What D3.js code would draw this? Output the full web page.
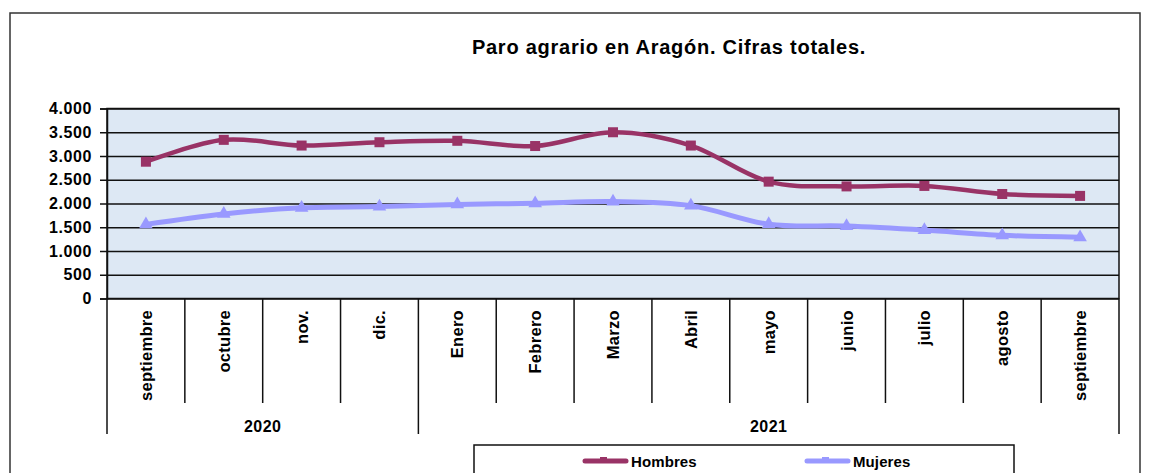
<!DOCTYPE html>
<html>
<head>
<meta charset="utf-8">
<script src="https://cdn.jsdelivr.net/npm/d3@7"></script>
<style>
  html, body { margin: 0; padding: 0; background: #fff; }
  svg { display: block; font-family: "Liberation Sans", Arial, sans-serif; font-weight: bold; }
</style>
</head>
<body>
<svg id="chart" width="1149" height="473"></svg>
<script>
const categories = ["septiembre","octubre","nov.","dic.","Enero","Febrero","Marzo","Abril","mayo","junio","julio","agosto","septiembre"];
const yearLabels = ["2020","2021"];
const yearCounts = [4, 9];
const hombres = [2880, 3340, 3220, 3290, 3320, 3210, 3500, 3220, 2460, 2360, 2370, 2200, 2160];
const mujeres = [1560, 1780, 1910, 1935, 1980, 2005, 2040, 1955, 1565, 1525, 1440, 1330, 1290];
const yTicks = [0, 500, 1000, 1500, 2000, 2500, 3000, 3500, 4000];
const seriesNames = ["Hombres", "Mujeres"];
const titleText = "Paro agrario en Aragón. Cifras totales.";

const svg = d3.select("#chart");
const L = 107, R = 1119, T = 108.5, B = 298.5;

const locale = d3.formatLocale({decimal: ",", thousands: ".", grouping: [3], currency: ["", "€"]});
const fmt = locale.format(",d");

const x = d3.scaleBand().domain(d3.range(categories.length)).range([L, R]);
const y = d3.scaleLinear().domain([0, 4000]).range([B, T]);

// outer border
svg.append("rect").attr("x", 10).attr("y", 13).attr("width", 1130).attr("height", 480)
  .attr("fill", "none").attr("stroke", "#333").attr("stroke-width", 1.5);

// title
svg.append("text").attr("x", 669).attr("y", 54).attr("text-anchor", "middle")
  .attr("font-size", 20).attr("letter-spacing", 0.75).text(titleText);

// plot background
svg.append("rect").attr("x", L).attr("y", T).attr("width", R - L).attr("height", B - T)
  .attr("fill", "#dde8f4");

// gridlines
const grid = svg.append("g").attr("transform", `translate(${L},0)`)
  .call(d3.axisLeft(y).tickValues(yTicks).tickSize(-(R - L)).tickFormat(""));
grid.select(".domain").remove();
grid.selectAll(".tick line").attr("stroke", "#111").attr("stroke-width", 1.5);

// plot border
svg.append("rect").attr("x", L).attr("y", T).attr("width", R - L).attr("height", B - T)
  .attr("fill", "none").attr("stroke", "#111").attr("stroke-width", 1.5);

// y axis
const yAx = svg.append("g").attr("transform", `translate(${L},0)`)
  .call(d3.axisLeft(y).tickValues(yTicks).tickSize(7).tickPadding(8).tickFormat(fmt));
yAx.select(".domain").attr("stroke", "#111").attr("stroke-width", 1.5);
yAx.selectAll(".tick line").attr("stroke", "#111").attr("stroke-width", 1.5);
yAx.selectAll(".tick text").attr("font-size", 16).attr("font-weight", "bold")
  .attr("letter-spacing", 0.6).attr("fill", "#000").attr("font-family", "Liberation Sans, Arial, sans-serif");

// category separators
const bounds = d3.range(categories.length + 1).map(i => i < categories.length ? x(i) : x(i - 1) + x.bandwidth());
svg.append("g").selectAll("line").data(bounds).join("line")
  .attr("x1", d => d).attr("x2", d => d).attr("y1", B).attr("y2", 403)
  .attr("stroke", "#111").attr("stroke-width", 1.5);

// category labels
svg.append("g").selectAll("text").data(categories).join("text")
  .attr("transform", (d, i) => `translate(${x(i) + x.bandwidth() / 2 + 6},310) rotate(-90)`)
  .attr("text-anchor", "end").attr("font-size", 16.5).attr("letter-spacing", 0.3)
  .text(d => d);

// year groups
let acc = 0;
const groupB = [0];
yearCounts.forEach(c => { acc += c; groupB.push(acc); });
const gx = i => i < categories.length ? x(i) : x(i - 1) + x.bandwidth();
svg.append("g").selectAll("line").data(groupB).join("line")
  .attr("x1", d => gx(d)).attr("x2", d => gx(d)).attr("y1", 403).attr("y2", 434)
  .attr("stroke", "#111").attr("stroke-width", 1.5);
svg.append("g").selectAll("text").data(yearLabels).join("text")
  .attr("x", (d, i) => (gx(groupB[i]) + gx(groupB[i + 1])) / 2)
  .attr("y", 432).attr("text-anchor", "middle").attr("font-size", 16).attr("letter-spacing", 0.5)
  .text(d => d);

// lines
const line = d3.line().x((d, i) => x(i) + x.bandwidth() / 2).y(d => y(d)).curve(d3.curveCatmullRom.alpha(0));
const colH = "#993366", colM = "#9999ff";

svg.append("path").datum(mujeres).attr("d", line).attr("fill", "none")
  .attr("stroke", colM).attr("stroke-width", 5).attr("stroke-linejoin", "round");
svg.append("g").selectAll("path").data(mujeres).join("path")
  .attr("transform", (d, i) => `translate(${x(i) + x.bandwidth() / 2},${y(d)})`)
  .attr("d", d3.symbol(d3.symbolTriangle, 80)).attr("fill", colM);

svg.append("path").datum(hombres).attr("d", line).attr("fill", "none")
  .attr("stroke", colH).attr("stroke-width", 4.5).attr("stroke-linejoin", "round");
svg.append("g").selectAll("rect").data(hombres).join("rect")
  .attr("x", (d, i) => x(i) + x.bandwidth() / 2 - 5).attr("y", d => y(d) - 5)
  .attr("width", 10).attr("height", 10).attr("fill", colH);

// legend
svg.append("rect").attr("x", 474).attr("y", 445).attr("width", 540).attr("height", 60)
  .attr("fill", "#fff").attr("stroke", "#111").attr("stroke-width", 1.5);
const legX = [583, 805];
const legCol = [colH, colM];
const leg = svg.append("g").selectAll("g").data(seriesNames).join("g")
  .attr("transform", (d, i) => `translate(${legX[i]},461)`);
leg.append("line").attr("x1", 2).attr("x2", 43).attr("y1", 0).attr("y2", 0)
  .attr("stroke", (d, i) => legCol[i]).attr("stroke-width", 5).attr("stroke-linecap", "round");
leg.append("rect").attr("x", 17).attr("y", -4).attr("width", 7).attr("height", 6)
  .attr("fill", (d, i) => legCol[i]);
leg.append("text").attr("x", 48).attr("y", 6).attr("font-size", 15).attr("letter-spacing", 0.1)
  .text(d => d);
</script>
</body>
</html>
